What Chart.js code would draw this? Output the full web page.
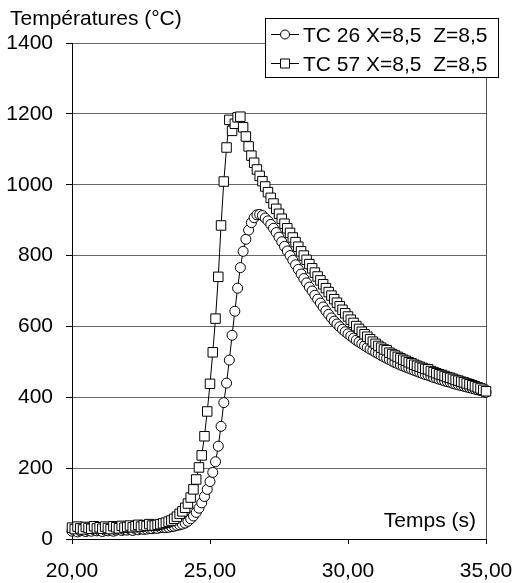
<!DOCTYPE html>
<html>
<head>
<meta charset="utf-8">
<script src="https://cdn.jsdelivr.net/npm/chart.js@4"></script>
<style>
html, body { margin: 0; padding: 0; background: #fff; }
#wrap { position: relative; width: 513px; height: 583px; }
</style>
</head>
<body>
<div id="wrap"><canvas id="chart" width="513" height="583"></canvas></div>
<script>
var yTitle = "Températures (°C)";
var xTitle = "Temps (s)";
var seriesNames = ["TC 26 X=8,5  Z=8,5", "TC 57 X=8,5  Z=8,5"];

var times = [
  20.0, 20.1, 20.2, 20.3, 20.4, 20.5, 20.6, 20.7, 20.8, 20.9,
  21.0, 21.1, 21.2, 21.3, 21.4, 21.5, 21.6, 21.7, 21.8, 21.9,
  22.0, 22.1, 22.2, 22.3, 22.4, 22.5, 22.6, 22.7, 22.8, 22.9,
  23.0, 23.1, 23.2, 23.3, 23.4, 23.5, 23.6, 23.7, 23.8, 23.9,
  24.0, 24.1, 24.2, 24.3, 24.4, 24.5, 24.6, 24.7, 24.8, 24.9,
  25.0, 25.1, 25.2, 25.3, 25.4, 25.5, 25.6, 25.7, 25.8, 25.9,
  26.0, 26.1, 26.2, 26.3, 26.4, 26.5, 26.6, 26.7, 26.8, 26.9,
  27.0, 27.1, 27.2, 27.3, 27.4, 27.5, 27.6, 27.7, 27.8, 27.9,
  28.0, 28.1, 28.2, 28.3, 28.4, 28.5, 28.6, 28.7, 28.8, 28.9,
  29.0, 29.1, 29.2, 29.3, 29.4, 29.5, 29.6, 29.7, 29.8, 29.9,
  30.0, 30.1, 30.2, 30.3, 30.4, 30.5, 30.6, 30.7, 30.8, 30.9,
  31.0, 31.1, 31.2, 31.3, 31.4, 31.5, 31.6, 31.7, 31.8, 31.9,
  32.0, 32.1, 32.2, 32.3, 32.4, 32.5, 32.6, 32.7, 32.8, 32.9,
  33.0, 33.1, 33.2, 33.3, 33.4, 33.5, 33.6, 33.7, 33.8, 33.9,
  34.0, 34.1, 34.2, 34.3, 34.4, 34.5, 34.6, 34.7, 34.8, 34.9,
  35.0
];

// TC 26 (circles)
var tc26 = [
  22, 24, 20, 23, 25, 21, 24, 22, 26, 23,
  24, 21, 25, 23, 26, 22, 25, 27, 24, 26,
  25, 27, 24, 28, 26, 29, 27, 28, 30, 29,
  31, 30, 32, 33, 32, 33, 35, 36, 38, 40,
  42, 45, 50, 57, 65, 75, 87, 102, 120, 140,
  162, 188, 218, 262, 318, 385, 440, 505, 575, 643,
  708, 766, 812, 846, 872, 893, 907, 915, 916, 913,
  906, 898, 888, 877, 865, 852, 839, 826, 813, 800,
  787, 774, 761, 748, 735, 723, 711, 700, 688, 677,
  666, 655, 644, 634, 624, 615, 607, 599, 592, 585,
  579, 573, 567, 561, 556, 551, 546, 541, 536, 532,
  527, 523, 518, 514, 510, 506, 502, 498, 495, 491,
  488, 485, 482, 479, 476, 473, 470, 467, 464, 462,
  459, 456, 454, 451, 449, 446, 444, 442, 439, 437,
  435, 433, 431, 429, 427, 425, 423, 421, 419, 417,
  414
];

// TC 57 (squares)
var tc57 = [
  32, 28, 35, 30, 27, 34, 31, 29, 36, 30,
  33, 29, 35, 31, 28, 36, 33, 30, 37, 32,
  34, 38, 33, 36, 40, 35, 39, 37, 42, 38,
  38, 40, 42, 44, 46, 49, 52, 57, 63, 71,
  78, 88, 100, 117, 140, 168, 202, 236, 290, 360,
  438, 527, 622, 740, 885, 1009, 1105, 1183, 1152, 1172,
  1190, 1192, 1162, 1136, 1108, 1082, 1062, 1043, 1025, 1010,
  995, 979, 963, 947, 932, 918, 904, 890, 877, 864,
  851, 838, 825, 812, 800, 788, 776, 764, 752, 741,
  730, 719, 708, 697, 687, 677, 667, 657, 647, 637,
  628, 619, 610, 601, 593, 585, 578, 571, 564, 557,
  551, 545, 540, 535, 533, 526, 522, 518, 514, 510,
  506, 503, 499, 496, 492, 489, 486, 483, 480, 479,
  474, 471, 468, 465, 463, 460, 457, 455, 452, 449,
  447, 444, 442, 439, 437, 434, 431, 428, 425, 421,
  417
];

var FONT_FAMILY = "'Liberation Sans', Arial, sans-serif";
var FONT_SIZE = 21;

function toPoints(xs, ys){
  var pts = [];
  for (var i = 0; i < xs.length; i++) pts.push({ x: xs[i], y: ys[i] });
  return pts;
}

function $each(arr, fn){
  for (var i = 0; i < arr.length; i++) fn(i, arr[i]);
}

var decorations = {
  id: "decorations",
  beforeDatasetsDraw: function(chart){
    var ctx = chart.ctx, area = chart.chartArea;
    var rx = Math.round(area.right) + 0.5;
    ctx.save();
    ctx.strokeStyle = "#555";
    ctx.lineWidth = 1;
    ctx.beginPath();
    ctx.moveTo(rx, area.top);
    ctx.lineTo(rx, area.bottom);
    ctx.stroke();
    ctx.restore();
  },
  afterDraw: function(chart){
    var ctx = chart.ctx, area = chart.chartArea;
    ctx.save();
    ctx.font = FONT_SIZE + "px " + FONT_FAMILY;
    ctx.fillStyle = "#000";
    ctx.textBaseline = "alphabetic";
    ctx.textAlign = "left";
    ctx.fillText(yTitle, 10, 25);
    ctx.textAlign = "right";
    ctx.fillText(xTitle, area.right - 10, area.bottom - 12);

    // legend box
    var bx = 265.5, by = 18.5, bw = 233, bh = 59;
    ctx.fillStyle = "#fff";
    ctx.fillRect(bx, by, bw, bh);
    ctx.strokeStyle = "#000";
    ctx.lineWidth = 1;
    ctx.strokeRect(bx, by, bw, bh);

    var rows = [34, 63];
    $each(chart.data.datasets, function(i, ds){
      var cy = rows[i] + 0.5;
      ctx.strokeStyle = "#000";
      ctx.beginPath();
      ctx.moveTo(271, cy);
      ctx.lineTo(299, cy);
      ctx.stroke();
      ctx.fillStyle = "#fff";
      ctx.beginPath();
      if (ds.pointStyle === "rect") {
        ctx.rect(280.5, cy - 4.5, 9, 9);
      } else {
        ctx.arc(285, cy, 4.5, 0, Math.PI * 2);
      }
      ctx.fill();
      ctx.stroke();
      ctx.fillStyle = "#000";
      ctx.textAlign = "left";
      ctx.fillText(ds.label, 303, rows[i] + 8);
    });
    ctx.restore();
  }
};

var chart = new Chart(document.getElementById("chart"), {
  type: "line",
  data: {
    datasets: [
      {
        label: seriesNames[0],
        data: toPoints(times, tc26),
        borderColor: "#000",
        borderWidth: 1,
        pointStyle: "circle",
        pointRadius: 5,
        pointBorderWidth: 1,
        pointBorderColor: "#000",
        pointBackgroundColor: "#fff",
        clip: false,
        order: 2
      },
      {
        label: seriesNames[1],
        data: toPoints(times, tc57),
        borderColor: "#000",
        borderWidth: 1,
        pointStyle: "rect",
        pointRadius: 6.7,
        pointBorderWidth: 1,
        pointBorderColor: "#000",
        pointBackgroundColor: "#fff",
        clip: false,
        order: 1
      }
    ]
  },
  options: {
    responsive: false,
    animation: false,
    devicePixelRatio: 1,
    layout: { padding: { top: 43, right: 27, left: 0, bottom: 0 } },
    plugins: {
      legend: { display: false },
      tooltip: { enabled: false }
    },
    scales: {
      x: {
        type: "linear",
        min: 20,
        max: 35,
        afterFit: function(scale){
          scale.height = 44;
          scale.paddingLeft = 0;
          scale.paddingRight = 0;
        },
        ticks: {
          stepSize: 5,
          color: "#000",
          padding: 15,
          maxRotation: 0,
          font: { family: FONT_FAMILY, size: FONT_SIZE },
          callback: function(value){ return value.toFixed(2).replace(".", ","); }
        },
        grid: {
          drawOnChartArea: false,
          drawTicks: true,
          tickLength: 5,
          tickColor: "#000"
        },
        border: { display: true, color: "#000", width: 1 }
      },
      y: {
        type: "linear",
        min: 0,
        max: 1400,
        afterFit: function(scale){
          scale.width = 72;
          scale.paddingTop = 0;
          scale.paddingBottom = 0;
        },
        ticks: {
          stepSize: 200,
          color: "#000",
          padding: 13,
          font: { family: FONT_FAMILY, size: FONT_SIZE },
          callback: function(value){ return String(value); }
        },
        grid: {
          color: "#666",
          lineWidth: 1,
          drawTicks: true,
          tickLength: 6,
          tickColor: "#000"
        },
        border: { display: true, color: "#000", width: 1 }
      }
    }
  },
  plugins: [decorations]
});
</script>
</body>
</html>
